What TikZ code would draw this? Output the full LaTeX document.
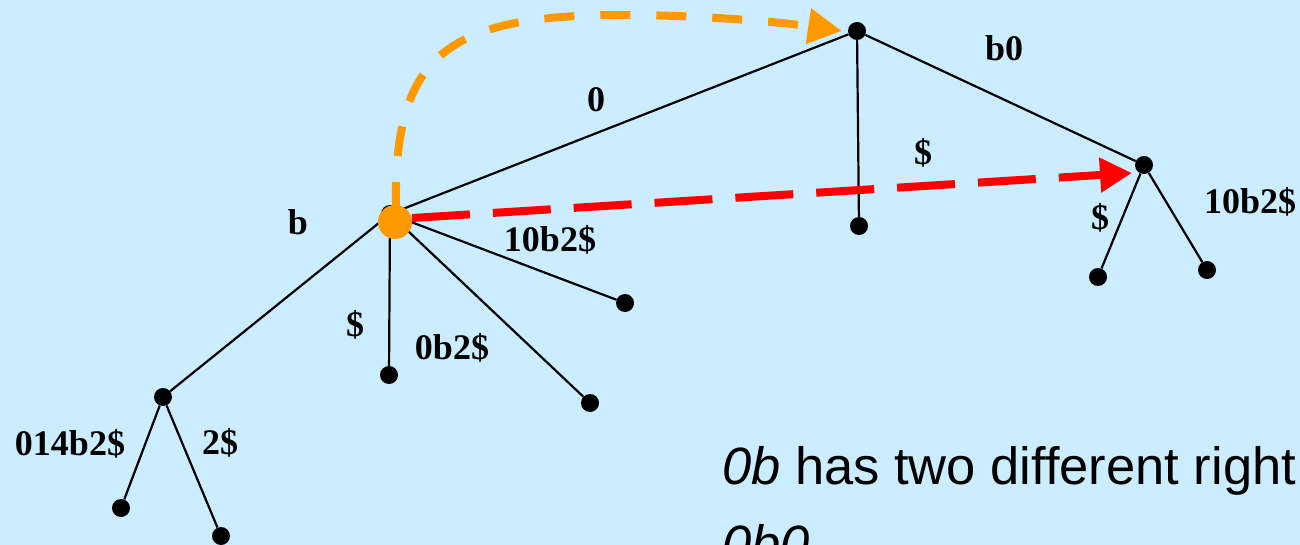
\documentclass[tikz,border=0pt]{standalone}
\usepackage{fontspec}
\setmainfont{Liberation Sans}
\newfontfamily\labfont{Liberation Serif}
\usetikzlibrary{arrows.meta}
\definecolor{bgblue}{RGB}{204,236,255}
\definecolor{myorange}{RGB}{255,153,0}
\definecolor{myred}{RGB}{255,0,0}
\tikzset{
  dot/.style={circle,fill=black,inner sep=0pt,minimum size=18pt},
  edge/.style={black,line width=2.2pt},
  lab/.style={font=\labfont\bfseries\fontsize{36}{40}\selectfont,inner sep=0pt},
  body/.style={font=\fontsize{52.5}{60}\selectfont,inner sep=0pt,anchor=base west},
  orangearrow/.style={myorange,line width=8pt,dash pattern=on 30pt off 26pt,-{Triangle[length=34pt,width=34pt]}},
  redarrow/.style={myred,line width=8pt,dash pattern=on 58pt off 23pt,-{Triangle[length=32pt,width=33pt]}}
}
\begin{document}
\begin{tikzpicture}[x=1pt,y=-1pt]
\useasboundingbox (0,0) rectangle (1300,545);
\fill[bgblue] (0,0) rectangle (1300,545);
\clip (0,0) rectangle (1300,545);
% nodes
\node[dot] (R) at (390,214) {};
\node[dot] (N0) at (857,31) {};
\node[dot] (N0c) at (859,226) {};
\node[dot] (N1) at (1144,165) {};
\node[dot] (N1a) at (1098,277) {};
\node[dot] (N1b) at (1207,270) {};
\node[dot] (Ra) at (625,303) {};
\node[dot] (Rb) at (590,403) {};
\node[dot] (Rc) at (389,375) {};
\node[dot] (Nb) at (163,397) {};
\node[dot] (Nba) at (121,508) {};
\node[dot] (Nbb) at (221,536) {};
% edges
\draw[edge] (R) -- (N0);
\draw[edge] (N0) -- (N0c);
\draw[edge] (N0) -- (N1);
\draw[edge] (N1) -- (N1a);
\draw[edge] (N1) -- (N1b);
\draw[edge] (R) -- (Ra);
\draw[edge] (R) -- (Rb);
\draw[edge] (R) -- (Rc);
\draw[edge] (R) -- (Nb);
\draw[edge] (Nb) -- (Nba);
\draw[edge] (Nb) -- (Nbb);
% labels
\node[lab] (l1) at (596,100) {0};
\node[lab] (l2) at (1004,48) {b0};
\node[lab] (l3) at (923,153) {\$};
\node[lab] (l4) at (298,222) {b};
\node[lab] (l5) at (550,240) {10b2\$};
\node[lab] (l6) at (355,325) {\$};
\node[lab] (l7) at (452,348) {0b2\$};
\node[lab] (l8) at (70,444) {014b2\$};
\node[lab] (l9) at (220,443) {2\$};
\node[lab] (l10) at (1100,218) {\$};
\node[lab] (l11) at (1250,202) {10b2\$};
% highlighted node
\node[circle,fill=myorange,inner sep=0pt,minimum size=34pt] (OD) at (395,222) {};
\coordinate (ostart) at (396,212);
\coordinate (oend) at (842,31);
\coordinate (rstart) at (412,218);
\coordinate (rend) at (1132,173);
\draw[orangearrow] (ostart) .. controls (393,60) and (440,15) .. (620,15) .. controls (700,15) and (780,22) .. (oend);
\draw[redarrow] (rstart) -- (rend);
% text
\node[body] (t1) at (722,484) {\textit{0b} has two different right};
\node[body] (t2) at (722,562) {\textit{0b0}};
\end{tikzpicture}
\end{document}
